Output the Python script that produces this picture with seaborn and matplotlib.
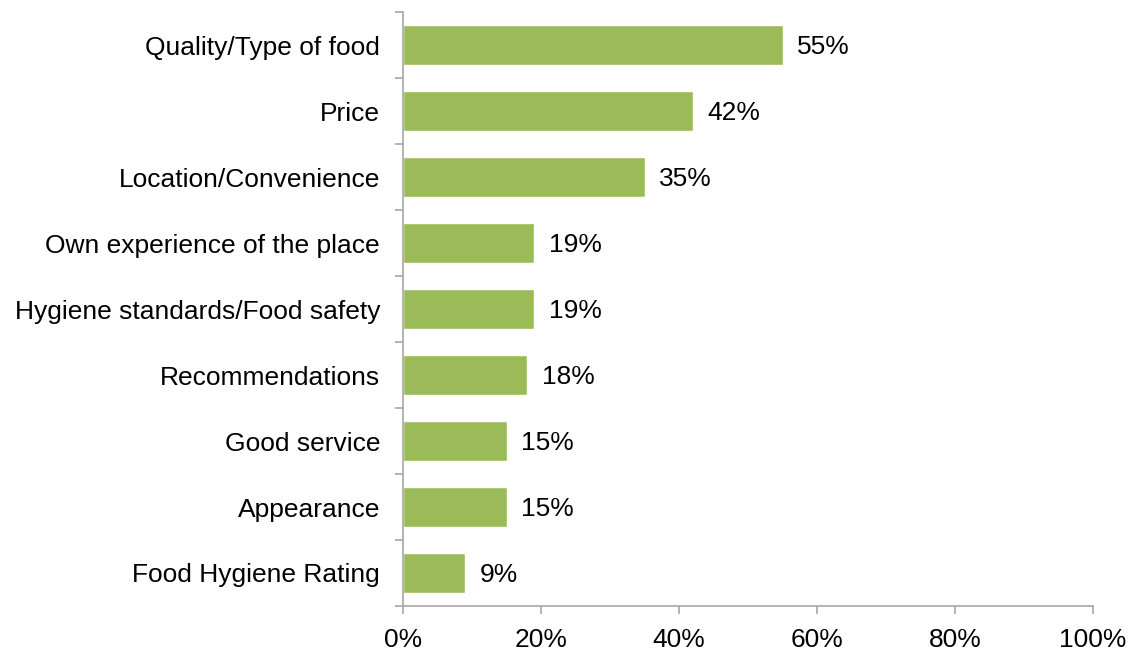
import matplotlib
matplotlib.use("Agg")
import matplotlib.pyplot as plt
from matplotlib.ticker import FixedLocator, PercentFormatter
import seaborn as sns
import pandas as pd

categories = [
    "Quality/Type of food",
    "Price",
    "Location/Convenience",
    "Own experience of the place",
    "Hygiene standards/Food safety",
    "Recommendations",
    "Good service",
    "Appearance",
    "Food Hygiene Rating",
]
values = [55, 42, 35, 19, 19, 18, 15, 15, 9]
x_ticks = [0, 20, 40, 60, 80, 100]

df = pd.DataFrame({"reason": categories, "pct": values})

sns.set_theme(style="white")
plt.rcParams["font.family"] = ["Liberation Sans", "DejaVu Sans"]

FS = 19

fig = plt.figure(figsize=(11.33, 6.5), dpi=100)
ax = fig.add_axes([0.3557, 0.0677, 0.9647 - 0.3557, 0.9815 - 0.0677])

sns.barplot(data=df, x="pct", y="reason", color="#9BBB59", saturation=1,
            width=0.6, ax=ax, orient="h")

ax.set_xlim(0, 100)
ax.set_ylim(len(categories) - 0.5, -0.5)
ax.set_xlabel("")
ax.set_ylabel("")

ax.xaxis.set_major_locator(FixedLocator(x_ticks))
ax.xaxis.set_major_formatter(PercentFormatter(decimals=0))
ax.yaxis.set_minor_locator(FixedLocator([i - 0.5 for i in range(len(categories) + 1)]))

spine_col = "#A6A6A6"
for side in ["top", "right"]:
    ax.spines[side].set_visible(False)
for side in ["left", "bottom"]:
    ax.spines[side].set_color(spine_col)
    ax.spines[side].set_linewidth(1.2)

ax.tick_params(axis="x", which="major", direction="out", length=6, width=1.2,
               color=spine_col, labelsize=FS, labelcolor="black", pad=10, bottom=True)
ax.tick_params(axis="y", which="major", length=0, labelsize=FS, labelcolor="black", pad=16.5)
ax.tick_params(axis="y", which="minor", direction="out", length=6, width=1.2,
               color=spine_col, left=True)

for i, v in enumerate(values):
    ax.text(v + 2.1, i + 0.03, f"{v}%", va="center", ha="left", fontsize=FS, color="black")

fig.savefig("out.png", dpi=100)
